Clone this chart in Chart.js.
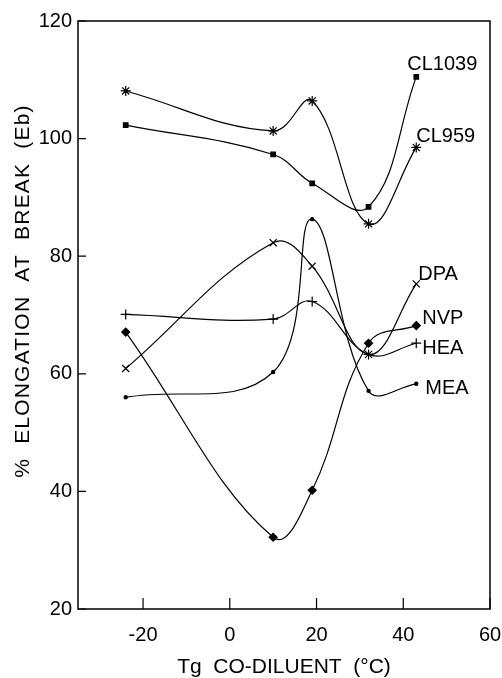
<!DOCTYPE html>
<html lang="en">
<head>
  <meta charset="UTF-8" />
  <title>% Elongation at break vs Tg co-diluent</title>
  <script src="https://cdn.jsdelivr.net/npm/chart.js@4"></script>
  <style>
    html, body { margin: 0; padding: 0; background: #fff; }
    .chart-box { position: relative; width: 502px; height: 678px; }
  </style>
</head>
<body>
  <div class="chart-box"><canvas id="elongacion"></canvas></div>

  <script>
    // Tg of the co-diluent (°C)
    const tgCoDiluent = [-24, 10, 19, 32, 43];

    // % elongation at break per co-diluent
    const cl1039 = [102.3, 97.3, 92.4, 88.4, 110.5];
    const cl959  = [108.1, 101.3, 106.4, 85.5, 98.5];
    const dpa    = [60.9, 82.3, 78.3, 63.3, 75.3];
    const nvp    = [67.1, 32.2, 40.2, 65.2, 68.2];
    const hea    = [70.1, 69.3, 72.3, 63.3, 65.2];
    const mea    = [56.0, 60.3, 86.3, 57.1, 58.3];

    const seriesNames = ['CL1039', 'CL959', 'DPA', 'NVP', 'HEA', 'MEA'];
    const xTicks = [-20, 0, 20, 40, 60];
    const yTicks = [20, 40, 60, 80, 100, 120];

    // marker look for each curve
    const markers = [
      { style: 'rect', r: 3.2 },
      { style: 'star', r: 5 },
      { style: 'crossRot', r: 5 },
      { style: 'rectRot', r: 4 },
      { style: 'cross', r: 5 },
      { style: 'circle', r: 1.6 }
    ];
    // where the end label sits relative to the last point (px)
    const labelOffsets = [[-9, -12], [0, -11], [2, -9], [6, -7], [6, 5], [9, 5]];

    const FONT = '"Liberation Sans", Arial, Helvetica, sans-serif';

    const allSeries = [cl1039, cl959, dpa, nvp, hea, mea];
    const datasets = allSeries.map((vals, i) => ({
      label: seriesNames[i],
      data: tgCoDiluent.map((x, j) => ({ x: x, y: vals[j] })),
      showLine: true,
      tension: 0.4,
      borderColor: '#000',
      backgroundColor: '#000',
      borderWidth: 1.2,
      pointStyle: markers[i].style,
      pointRadius: markers[i].r,
      pointBorderWidth: 1.2,
      pointBackgroundColor: '#000'
    }));

    const marcoYEtiquetas = {
      id: 'marcoYEtiquetas',
      afterDraw(chart) {
        const { ctx, chartArea: a, scales } = chart;
        const x = scales.x, y = scales.y;
        ctx.save();
        ctx.strokeStyle = '#000';
        ctx.lineWidth = 1.5;
        ctx.strokeRect(a.left, a.top, a.right - a.left, a.bottom - a.top);

        // tick marks point inward
        ctx.lineWidth = 1.2;
        ctx.beginPath();
        xTicks.forEach(v => {
          const px = x.getPixelForValue(v);
          ctx.moveTo(px, a.bottom);
          ctx.lineTo(px, a.bottom - 11);
        });
        yTicks.forEach(v => {
          const py = y.getPixelForValue(v);
          ctx.moveTo(a.left, py);
          ctx.lineTo(a.left + 8, py);
        });
        ctx.stroke();

        // curve names at the right end
        ctx.fillStyle = '#000';
        ctx.font = '20px ' + FONT;
        ctx.textAlign = 'left';
        ctx.textBaseline = 'middle';
        chart.data.datasets.forEach((ds, i) => {
          const pts = chart.getDatasetMeta(i).data;
          const last = pts[pts.length - 1];
          ctx.fillText(ds.label, last.x + labelOffsets[i][0], last.y + labelOffsets[i][1]);
        });

        // axis titles
        ctx.font = '21px ' + FONT;
        ctx.textAlign = 'center';
        ctx.fillText('Tg  CO-DILUENT  (°C)', (a.left + a.right) / 2, 667);

        ctx.translate(23, 291);
        ctx.rotate(-Math.PI / 2);
        ctx.letterSpacing = '1.2px';
        ctx.fillText('%  ELONGATION  AT  BREAK  (Eb)', 0, 0);
        ctx.restore();
      }
    };

    new Chart(document.getElementById('elongacion'), {
      type: 'scatter',
      data: { datasets: datasets },
      options: {
        responsive: true,
        maintainAspectRatio: false,
        animation: false,
        layout: { padding: { top: 21, right: 12, left: 0, bottom: 0 } },
        plugins: {
          legend: { display: false },
          tooltip: { enabled: false }
        },
        scales: {
          x: {
            type: 'linear',
            min: -35,
            max: 60,
            grid: { display: false, drawTicks: false },
            border: { display: false },
            afterBuildTicks: s => { s.ticks = xTicks.map(v => ({ value: v })); },
            afterFit: s => { s.height = 69; s.paddingLeft = 0; s.paddingRight = 0; },
            ticks: { color: '#000', padding: 14, font: { family: FONT, size: 20 } }
          },
          y: {
            min: 20,
            max: 120,
            grid: { display: false, drawTicks: false },
            border: { display: false },
            afterBuildTicks: s => { s.ticks = yTicks.map(v => ({ value: v })); },
            afterFit: s => { s.width = 78; s.paddingTop = 0; s.paddingBottom = 0; },
            ticks: { color: '#000', padding: 6, font: { family: FONT, size: 20 } }
          }
        }
      },
      plugins: [marcoYEtiquetas]
    });
  </script>
</body>
</html>
